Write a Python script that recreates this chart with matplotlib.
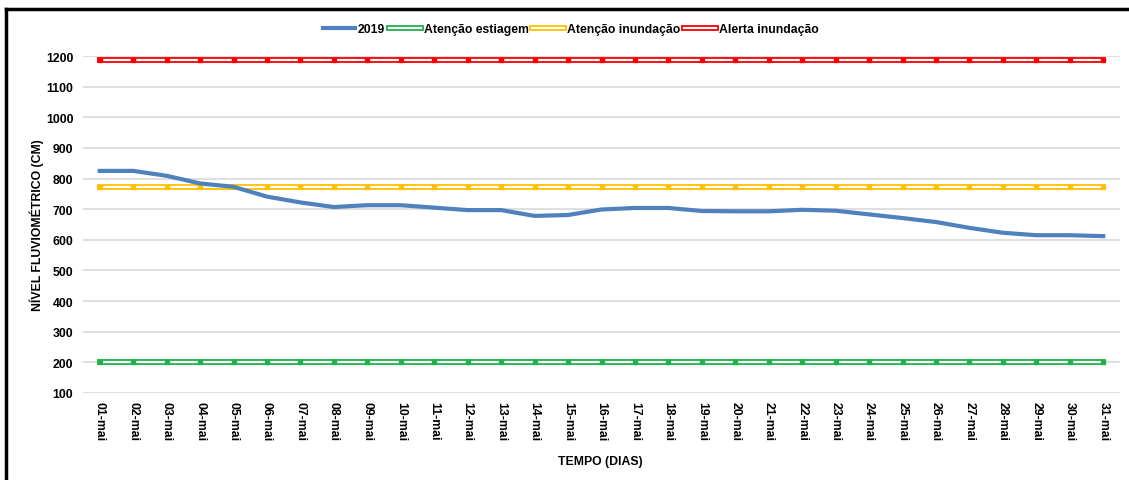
import matplotlib
matplotlib.use("Agg")
import matplotlib.pyplot as plt
from matplotlib.lines import Line2D
import matplotlib.patheffects as pe

days = [f"{d:02d}-mai" for d in range(1, 32)]
nivel_2019 = [825, 825, 809, 784, 773, 741, 722, 707, 713, 713, 705, 697, 697,
              678, 681, 699, 704, 704, 694, 693, 693, 698, 695, 683, 671, 658,
              639, 623, 615, 615, 612]
atencao_estiagem = [200] * 31
atencao_inundacao = [773] * 31
alerta_inundacao = [1187] * 31
yticks = list(range(100, 1300, 100))

plt.rcParams['font.family'] = ['Liberation Sans', 'DejaVu Sans']
FS = 8.8

fig = plt.figure(figsize=(11.29, 4.81), dpi=100)
ax = fig.add_axes([83/1129, 1-394/481, (1120-83)/1129, (394-57)/481])

x = list(range(len(days)))

def effects(color):
    return [pe.Stroke(linewidth=4.2, foreground=color), pe.Normal()]

def double_line(vals, color, z):
    ax.plot(x, vals, color='white', lw=1.6, zorder=z, path_effects=effects(color))
    ax.plot(x, vals, ls='none', marker='s', ms=2.5, color=color, zorder=z + 0.2)

double_line(atencao_estiagem, '#22b04b', 3)
double_line(atencao_inundacao, '#ffc000', 3)
double_line(alerta_inundacao, '#ff0000', 3)
ax.plot(x, nivel_2019, color='#4f81bd', lw=3, zorder=5)

ax.set_xlim(-0.5, len(days) - 0.5)
ax.set_ylim(100, 1200)
ax.set_yticks(yticks)
ax.set_yticklabels([str(v) for v in yticks], fontsize=FS, fontweight='bold')
ax.set_xticks(x)
ax.set_xticklabels(days, rotation=270, fontsize=FS, fontweight='bold')
ax.tick_params(length=0, pad=7)
ax.tick_params(axis='x', pad=6)
ax.grid(axis='y', color='#d9d9d9', lw=1.2)
ax.set_axisbelow(True)
for s in ax.spines.values():
    s.set_visible(False)

ax.set_ylabel('NÍVEL FLUVIOMÉTRICO (CM)', fontsize=FS, fontweight='bold', labelpad=1)
fig.text(600/1129, 1-462/481, 'TEMPO (DIAS)', ha='center', va='center',
         fontsize=FS, fontweight='bold')

def dh(color):
    return Line2D([], [], color='white', lw=1.6, path_effects=effects(color))

handles = [Line2D([], [], color='#4f81bd', lw=3), dh('#22b04b'), dh('#ffc000'), dh('#ff0000')]
labels = ['2019', 'Atenção estiagem', 'Atenção inundação', 'Alerta inundação']
leg = fig.legend(handles, labels, loc='center', bbox_to_anchor=(571/1129, 1-30/481), ncol=4,
                 frameon=False, handlelength=2.6, handletextpad=0.25,
                 columnspacing=0.3, prop={'size': FS, 'weight': 'bold'})

fig.add_artist(Line2D([6/1129, 6/1129], [0, 1-10/481], transform=fig.transFigure,
                      color='black', lw=2.5))
fig.add_artist(Line2D([6/1129, 1.01], [1-10/481, 1-10/481], transform=fig.transFigure,
                      color='black', lw=2.5))

fig.savefig('out.png', dpi=100)
